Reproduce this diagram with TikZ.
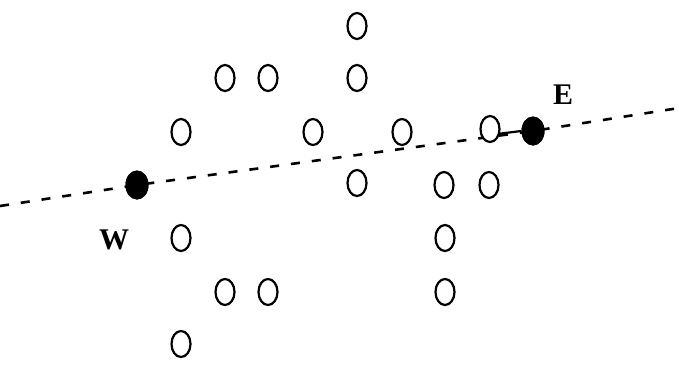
\documentclass[tikz,border=0pt]{standalone}
\usepackage{fontspec}
\newfontfamily\lblfont{Liberation Serif}
\usetikzlibrary{shapes.geometric}
\begin{document}
\begin{tikzpicture}[x=1pt,y=-1pt,
  ring/.style={draw=black,line width=2.2pt,ellipse,minimum width=19pt,minimum height=26pt,inner sep=0pt},
  dot/.style={fill=black,ellipse,minimum width=23pt,minimum height=29pt,inner sep=0pt},
  lbl/.style={font=\lblfont\bfseries\fontsize{30}{30}\selectfont,inner sep=0pt},
  dashline/.style={line width=2.6pt,dash pattern=on 9pt off 12pt}]
\useasboundingbox (0,0) rectangle (679,364);
\coordinate (L) at (0,206);
\coordinate (R) at (679,108);
\node[dot] (W) at (137,185) {};
\node[dot] (E) at (533,131) {};
\draw[dashline] (L) -- (W.center) -- (E.center) -- (R);
\node[dot] at (137,185) {};
\node[dot] at (533,131) {};
\node[ring,fill=white] (c12) at (490,129) {};
\draw[line width=2.2pt] (c12.-25) -- (E.west);
\node[lbl] (lw) at (114,240) {W};
\node[lbl] (le) at (563,95) {E};
\foreach \n/\x/\y in {a1/357/26,a2/357/78,a3/225/78,a4/268/78,
  b1/181/132,b2/313/132,b3/402/132,
  c1/357/183,c2/444/185,c3/489/185,
  d1/181/238,d2/445/238,
  e1/225/292,e2/268/292,e3/445/292,
  f1/181/344}
  \node[ring] (\n) at (\x,\y) {};
\end{tikzpicture}
\end{document}
